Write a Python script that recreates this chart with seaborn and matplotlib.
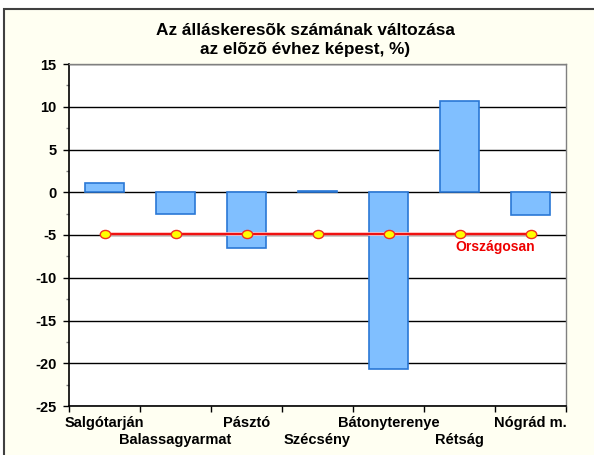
import matplotlib
matplotlib.use("Agg")
import matplotlib.pyplot as plt
import matplotlib.transforms as mtransforms
import seaborn as sns
import pandas as pd
import numpy as np
from matplotlib.patches import Rectangle
from matplotlib.path import Path

categories = ["Salgótarján", "Balassagyarmat", "Pásztó", "Szécsény",
              "Bátonyterenye", "Rétság", "Nógrád m."]
valtozas = [1.1, -2.6, -6.5, 0.2, -20.7, 10.7, -2.7]
orszagosan = [-4.85] * 7
title_text = "Az álláskeresõk számának változása\naz elõzõ évhez képest, %)"
y_ticks = [15, 10, 5, 0, -5, -10, -15, -20, -25]

sns.set_theme(style="white")
plt.rcParams['font.family'] = ['Liberation Sans', 'DejaVu Sans']
plt.rcParams['text.color'] = 'black'
plt.rcParams['xtick.color'] = 'black'
plt.rcParams['ytick.color'] = 'black'
plt.rcParams['axes.labelcolor'] = 'black'

df = pd.DataFrame({"telepules": categories, "valtozas": valtozas})

fig = plt.figure(figsize=(5.94, 4.55), dpi=100)
fig.patch.set_facecolor("white")
# chart area panel (ivory with dark border on left/top)
panel = Rectangle((4 / 594, -0.1), 1.2, 1 - 9 / 455 + 0.1,
                  transform=fig.transFigure, facecolor="#fffff2",
                  edgecolor="#404040", linewidth=1.5, zorder=-10)
fig.add_artist(panel)

ax = fig.add_axes([69 / 594, 1 - 406 / 455, (566 - 69) / 594, (406 - 64) / 455])
ax.set_zorder(1)
ax.set_facecolor("white")

sns.barplot(data=df, x="telepules", y="valtozas", ax=ax, width=0.56,
            color="#80bfff", edgecolor="#2a78d6", linewidth=1.2,
            saturation=1, zorder=3)

xs = np.arange(len(categories))
ax.plot(xs, orszagosan, color="#ffb4b4", lw=2.6, zorder=4, solid_capstyle="butt")
ax.plot(xs, orszagosan, color="#ee0000", lw=1.3, zorder=5, solid_capstyle="butt")
ell = Path.unit_circle()
ell = Path(ell.vertices * np.array([1.0, 0.78]), ell.codes)
ax.plot(xs, orszagosan, linestyle="none", marker=ell, markersize=7.5,
        markerfacecolor="#ffff00", markeredgecolor="#f03020",
        markeredgewidth=1.0, zorder=6)
ax.text(5.5, orszagosan[-1] - 1.6, "Országosan", color="#ee0000",
        fontsize=10, fontweight="bold", ha="center", va="center", zorder=7)

ax.set_xlim(-0.5, len(categories) - 0.5)
ax.set_ylim(-25, 15)
ax.set_yticks(y_ticks)
ax.set_yticklabels([str(v) for v in y_ticks], fontsize=10.5, fontweight="bold")
ax.set_yticks(np.arange(-22.5, 15, 5), minor=True)
ax.yaxis.grid(True, which="major", color="black", linewidth=1.0)
ax.set_axisbelow(True)
ax.tick_params(axis="y", which="major", left=True, length=4, width=1,
               color="black", pad=5)
ax.tick_params(axis="y", which="minor", left=True, length=2.5, width=1,
               color="#808080")

ax.set_xticks(xs)
ax.set_xticklabels([])
ax.tick_params(axis="x", which="major", bottom=False, length=0)
ax.set_xticks(np.arange(-0.5, len(categories), 1.0), minor=True)
ax.tick_params(axis="x", which="minor", bottom=True, length=4, width=1,
               color="black")
ax.set_xlabel("")
ax.set_ylabel("")

# staggered category labels
base = ax.get_xaxis_transform()
for i, name in enumerate(categories):
    dy = -7.5 if i % 2 == 0 else -19.5
    tr = base + mtransforms.ScaledTranslation(0, dy / 72, fig.dpi_scale_trans)
    ax.text(i, 0, name, transform=tr, ha="center", va="top",
            fontsize=10.5, fontweight="bold", clip_on=False)

for side in ["left", "bottom"]:
    ax.spines[side].set_color("black")
    ax.spines[side].set_linewidth(1.2)
for side in ["top", "right"]:
    ax.spines[side].set_color("#808080")
    ax.spines[side].set_linewidth(1.0)
    ax.spines[side].set_visible(True)

fig.text(305 / 594, 1 - 40 / 455, title_text, ha="center", va="center",
         fontsize=12.4, fontweight="bold", linespacing=1.4, color="black")

fig.savefig("out.png", dpi=100, facecolor=fig.get_facecolor())
